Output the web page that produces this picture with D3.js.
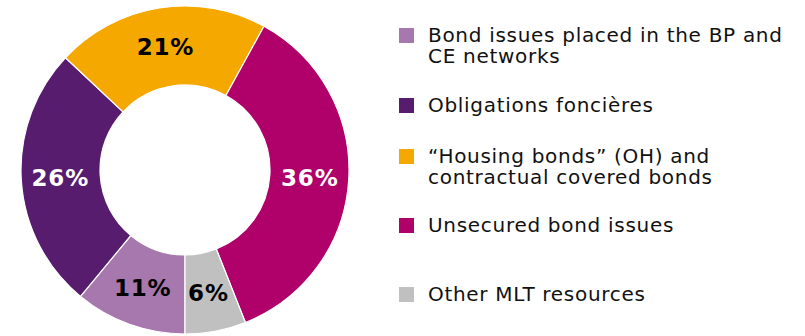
<!DOCTYPE html>
<html>
<head>
<meta charset="utf-8">
<script src="https://cdn.jsdelivr.net/npm/d3@7"></script>
<style>
  body { margin: 0; background: #fff; }
  svg { display: block; font-family: "DejaVu Sans", Verdana, sans-serif; }
</style>
</head>
<body>
<svg></svg>
<script>
var width = 805, height = 336;

// data, in pie order (starting at the bottom, clockwise)
var categories = [
	["Bond issues placed in the BP and", "CE networks"],
	["Obligations foncières"],
	["\u201cHousing bonds\u201d (OH) and", "contractual covered bonds"],
	["Unsecured bond issues"],
	["Other MLT resources"]
];
var values = [11, 26, 21, 36, 6];
var colors = ["#a778ad", "#571c6e", "#f5a800", "#b0006a", "#c0c0c0"];
var labelColors = ["#000", "#fff", "#000", "#fff", "#000"];
var legendY = [28, 98, 149, 218, 287];

var svg = d3.select("svg")
	.attr("width", width)
	.attr("height", height);

var cx = 185, cy = 170, outerR = 164, innerR = 85;

var pie = d3.pie()
	.sort(null)
	.startAngle(Math.PI)
	.endAngle(3 * Math.PI);

var arc = d3.arc()
	.innerRadius(innerR)
	.outerRadius(outerR);

var labelArc = d3.arc()
	.innerRadius(125)
	.outerRadius(125);

var arcs = pie(values);

var g = svg.append("g")
	.attr("transform", "translate(" + cx + "," + cy + ")");

g.selectAll("path")
	.data(arcs)
	.enter()
	.append("path")
	.attr("d", arc)
	.attr("fill", function(d, i) { return colors[i]; })
	.attr("stroke", "#fff")
	.attr("stroke-width", 1.2);

g.selectAll("text")
	.data(arcs)
	.enter()
	.append("text")
	.attr("transform", function(d) { return "translate(" + labelArc.centroid(d) + ")"; })
	.attr("dy", "0.36em")
	.attr("text-anchor", "middle")
	.attr("font-size", 23)
	.attr("font-weight", "bold")
	.attr("letter-spacing", 0.8)
	.attr("fill", function(d, i) { return labelColors[i]; })
	.text(function(d) { return d.data + "%"; });

// legend
var legend = svg.append("g").selectAll("g")
	.data(categories)
	.enter()
	.append("g")
	.attr("transform", function(d, i) { return "translate(399," + legendY[i] + ")"; });

legend.append("rect")
	.attr("width", 15)
	.attr("height", 15)
	.attr("fill", function(d, i) { return colors[i]; });

legend.append("text")
	.attr("x", 29)
	.attr("y", 14)
	.attr("font-size", 20)
	.attr("letter-spacing", 0.7)
	.attr("fill", "#111")
	.selectAll("tspan")
	.data(function(d) { return d; })
	.enter()
	.append("tspan")
	.attr("x", 29)
	.attr("dy", function(d, i) { return i ? 21 : 0; })
	.text(function(d) { return d; });
</script>
</body>
</html>
